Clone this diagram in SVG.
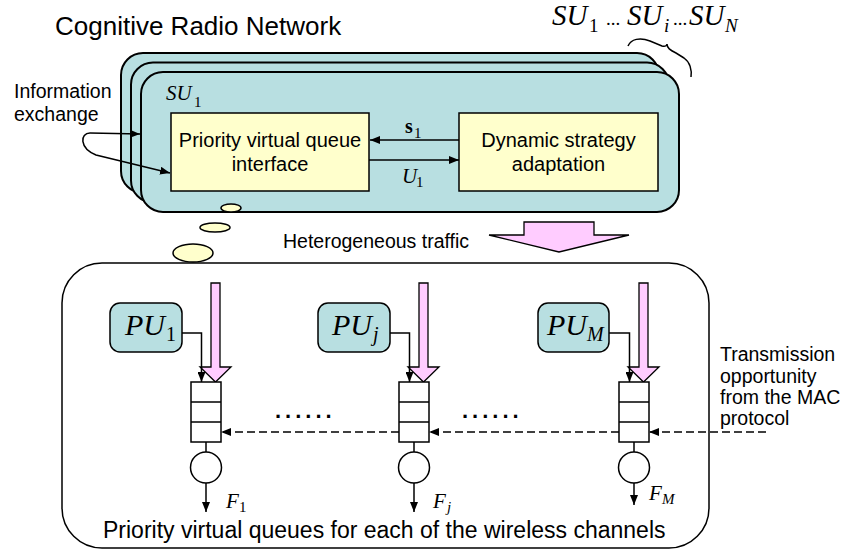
<svg xmlns="http://www.w3.org/2000/svg" width="845" height="550" viewBox="0 0 845 550">
<style>
.sans{font-family:"Liberation Sans",Arial,sans-serif;fill:#000}
.m{font-family:"Liberation Serif","Times New Roman",serif;font-style:italic;fill:#000}
.r{font-style:normal}
.su{fill:#b8dfe1;stroke:#000;stroke-width:2}
.yb{fill:#ffffcc;stroke:#000;stroke-width:1.5}
.pu{fill:#b8dfe1;stroke:#000;stroke-width:1.5}
.pk{fill:#ffccff;stroke:#000;stroke-width:1.3}
.bub{fill:#ffffcc;stroke:#000;stroke-width:1.5}
.q{fill:#fff;stroke:#000;stroke-width:1.5}
.ln{fill:none;stroke:#000;stroke-width:1.5}
.dash{fill:none;stroke:#000;stroke-width:1.5;stroke-dasharray:8 4}
</style>
<defs>
<marker id="ah" viewBox="0 0 10 8" refX="10" refY="4" markerWidth="10" markerHeight="8" markerUnits="userSpaceOnUse" orient="auto"><path d="M0,0 L10,4 L0,8 z" fill="#000"/></marker>
</defs>
<rect width="845" height="550" fill="#fff"/>

<text class="sans" x="55" y="35" font-size="26">Cognitive Radio Network</text>

<g id="su-stack">
<rect class="su" x="121" y="53" width="538" height="140" rx="22"/>
<rect class="su" x="131" y="62.5" width="538" height="140" rx="22"/>
<rect class="su" x="141" y="72" width="538" height="140" rx="22"/>
<text class="m" font-size="21"><tspan x="166" y="100">SU</tspan><tspan class="r" x="194" y="107" font-size="15">1</tspan></text>
</g>

<g id="su-label">
<text class="m" font-size="29"><tspan x="552" y="25">SU</tspan><tspan class="r" x="589" y="32" font-size="19">1</tspan><tspan class="r" x="606" y="25" font-size="19">...</tspan><tspan x="627" y="25">SU</tspan><tspan x="664" y="32" font-size="19">i</tspan><tspan class="r" x="673" y="25" font-size="19">...</tspan><tspan x="689" y="25">SU</tspan><tspan x="725" y="32" font-size="19">N</tspan></text>
<path class="ln" d="M628,46 C631,39 640,37 650,41 L662,46 C666,47 667,45 667,44 C667,48 670,50 676,53 L684,58 C690,62 692,70 691,77" stroke-width="1.3"/>
</g>

<g id="info-exchange">
<text class="sans" font-size="19.5"><tspan x="14" y="98">Information</tspan><tspan x="14" y="121">exchange</tspan></text>
</g>

<g id="pvq-interface">
<rect class="yb" x="171" y="113" width="198" height="78"/>
<text class="sans" font-size="20" text-anchor="middle"><tspan x="270" y="147">Priority virtual queue</tspan><tspan x="270" y="171">interface</tspan></text>
</g>

<g id="dyn-strategy">
<rect class="yb" x="459" y="113" width="199" height="78"/>
<text class="sans" font-size="20" text-anchor="middle"><tspan x="558.5" y="147">Dynamic strategy</tspan><tspan x="558.5" y="171">adaptation</tspan></text>
</g>

<g id="bubbles">
<ellipse class="bub" cx="231" cy="208" rx="10" ry="4"/>
<ellipse class="bub" cx="215" cy="227.5" rx="15" ry="4.5"/>
<ellipse class="bub" cx="193" cy="253" rx="20" ry="9"/>
</g>

<g id="traffic">
<polygon class="pk" points="524,222 594,222 594,235 629,235 559,252 489,235 524,235"/>
<text class="sans" x="283" y="248" font-size="19.5">Heterogeneous traffic</text>
</g>

<g id="channels">
<rect fill="none" stroke="#000" stroke-width="1.5" x="62" y="263" width="647" height="285" rx="40"/>
<text class="sans" x="103" y="538" font-size="23">Priority virtual queues for each of the wireless channels</text>
<text class="sans" x="275" y="418" font-size="22" font-weight="bold" letter-spacing="4">......</text>
<text class="sans" x="462" y="418" font-size="22" font-weight="bold" letter-spacing="4">......</text>
</g>

<g id="pu1">
<rect class="pu" x="110" y="303" width="72" height="49" rx="10"/>
<text class="m" font-size="30"><tspan x="125" y="335">PU</tspan><tspan class="r" x="166" y="341" font-size="20">1</tspan></text>
</g>
<g id="puj">
<rect class="pu" x="318" y="303" width="72" height="49" rx="10"/>
<text class="m" font-size="30"><tspan x="332" y="335">PU</tspan><tspan x="373" y="341" font-size="20">j</tspan></text>
</g>
<g id="pum">
<rect class="pu" x="538" y="303" width="71" height="49" rx="10"/>
<text class="m" font-size="30"><tspan x="547" y="335">PU</tspan><tspan x="587" y="341" font-size="20">M</tspan></text>
</g>

<g id="queue1">
<polygon class="pk" points="211,283 220,283 220,367 231,367 215.5,382 200,367 211,367"/>
<rect class="q" x="191" y="382" width="30" height="60"/>
<path class="ln" d="M191,402 H221 M191,422 H221"/>
<circle class="q" cx="206" cy="467.5" r="15.5"/>
<text class="m" font-size="21"><tspan x="226" y="508">F</tspan><tspan class="r" x="239" y="512" font-size="15">1</tspan></text>
</g>
<g id="queuej">
<polygon class="pk" points="419,283 428,283 428,367 439,367 423.5,382 408,367 419,367"/>
<rect class="q" x="399" y="382" width="30" height="60"/>
<path class="ln" d="M399,402 H429 M399,422 H429"/>
<circle class="q" cx="414" cy="467.5" r="15.5"/>
<text class="m" font-size="21"><tspan x="433" y="508">F</tspan><tspan x="447" y="512" font-size="15">j</tspan></text>
</g>
<g id="queueM">
<polygon class="pk" points="639,283 648,283 648,367 659,367 643.5,382 628,367 639,367"/>
<rect class="q" x="619" y="382" width="30" height="60"/>
<path class="ln" d="M619,402 H649 M619,422 H649"/>
<circle class="q" cx="634" cy="467.5" r="15.5"/>
<text class="m" font-size="21"><tspan x="649" y="500">F</tspan><tspan x="662" y="504" font-size="15">M</tspan></text>
</g>

<g id="mac">
<text class="sans" font-size="19.5"><tspan x="720" y="361">Transmission</tspan><tspan x="720" y="382.5">opportunity</tspan><tspan x="720" y="404">from the MAC</tspan><tspan x="720" y="425">protocol</tspan></text>
</g>

<g id="connectors">
<path class="ln" d="M90,133 L140,134" marker-end="url(#ah)"/>
<path class="ln" d="M90,133 C80,133 79,148 96,155 L170,173" marker-end="url(#ah)"/>
<path class="ln" d="M459,140 H370" marker-end="url(#ah)"/>
<path class="ln" d="M369,160 H459" marker-end="url(#ah)"/>
<text class="m r" font-size="20" font-weight="bold" x="405" y="133">s</text>
<text class="m r" font-size="15" x="414" y="138">1</text>
<text class="m" font-size="21" x="402" y="183">U</text>
<text class="m r" font-size="15" x="416" y="187">1</text>
<path class="ln" d="M182,333 H201.5 V382" marker-end="url(#ah)"/>
<path class="ln" d="M390,333 H409.5 V382" marker-end="url(#ah)"/>
<path class="ln" d="M609,333 H629.5 V382" marker-end="url(#ah)"/>
<path class="ln" d="M206,442 V452 M414,442 V452 M634,442 V452"/>
<path class="ln" d="M206,483 V512" marker-end="url(#ah)"/>
<path class="ln" d="M414,483 V512" marker-end="url(#ah)"/>
<path class="ln" d="M634,483 V505" marker-end="url(#ah)"/>
<path class="dash" d="M766,432 H649" marker-end="url(#ah)"/>
<path class="dash" d="M619,432 H429" marker-end="url(#ah)"/>
<path class="dash" d="M399,432 H221" marker-end="url(#ah)"/>
</g>
</svg>
